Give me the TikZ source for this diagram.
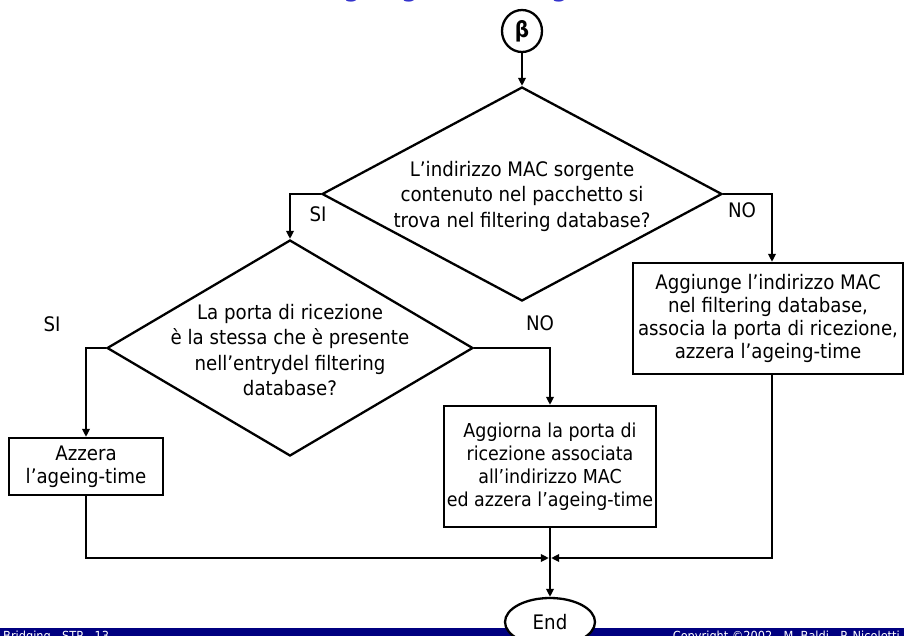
\documentclass[tikz,border=0pt]{standalone}
\usepackage{fontspec}
\setmainfont{DejaVu Sans}[FakeStretch=0.91]
\usetikzlibrary{shapes.geometric,arrows.meta}
\definecolor{titleblue}{RGB}{51,51,204}
\definecolor{barnavy}{RGB}{0,0,128}
\begin{document}
\begin{tikzpicture}[x=1pt,y=-1pt,
  wire/.style={line width=2.3pt},
  flow/.style={wire, -{Triangle[length=8pt,width=7.5pt]}},
  decision/.style={draw, line width=2.3pt, shape=diamond, inner sep=0pt},
  stepbox/.style={draw, line width=2.3pt, align=center, inner sep=0pt},
  terminal/.style={draw, line width=2.3pt, ellipse, fill=white, inner sep=0pt},
  qtext/.style={align=center, inner sep=0pt, font=\fontsize{20}{25.5}\selectfont},
  btext/.style={font=\fontsize{20}{23}\selectfont},
  lbl/.style={inner sep=0pt, font=\fontsize{20}{24}\selectfont}]

\useasboundingbox (0,0) rectangle (904,635);
\clip (0,0) rectangle (904,635);

% slide title (mostly above the page) and footer bar
\node[anchor=base west, inner sep=0pt, text=titleblue,
      font=\bfseries\fontsize{26}{30}\selectfont] (title) at (325,-4) {Ageing e Learning};
\fill[barnavy] (0,628) rectangle (904,640);
\node[anchor=base west, inner sep=0pt, text=white, font=\fontsize{12.5}{14}\selectfont]
  (footl) at (3,640.5) {Bridging - STP - 13};
\node[anchor=base east, inner sep=0pt, text=white, font=\fontsize{12.5}{14}\selectfont]
  (footr) at (900,640.5) {Copyright ©2002 - M. Baldi - P. Nicoletti};

% start connector
\node[terminal, minimum width=40pt, minimum height=42pt,
      font=\bfseries\fontsize{22}{24}\selectfont] (beta) at (522,31) {β};

% decisions
\node[decision, minimum width=400pt, minimum height=214pt] (d1) at (522,194) {};
\node[qtext] (d1t) at (522,196) {L’indirizzo MAC sorgente\\contenuto nel pacchetto si\\trova nel filtering database?};

\node[decision, minimum width=366pt, minimum height=216pt] (d2) at (290,348) {};
\node[qtext] (d2t) at (290,350) {La porta di ricezione\\è la stessa che è presente\\nell’entrydel filtering\\database?};

% actions
\node[stepbox, btext, minimum width=154pt, minimum height=57pt] (azz) at (86,466.5)
  {Azzera\\l’ageing-time};
\node[stepbox, font=\fontsize{19.2}{23}\selectfont, minimum width=212pt, minimum height=121pt]
  (agg) at (550,466.5) {Aggiorna la porta di\\ricezione associata\\all’indirizzo MAC\\ed azzera l’ageing-time};
\node[stepbox, btext, minimum width=270pt, minimum height=111pt] (add) at (768,318.5)
  {Aggiunge l’indirizzo MAC\\nel filtering database,\\associa la porta di ricezione,\\azzera l’ageing-time};

% end terminal
\node[terminal, minimum width=90pt, minimum height=48pt, font=\fontsize{20}{24}\selectfont]
  (end) at (550,622) {End};

% branch labels
\node[lbl] (si1) at (318,214) {SI};
\node[lbl] (no1) at (742,210) {NO};
\node[lbl] (si2) at (52,324) {SI};
\node[lbl] (no2) at (540,323) {NO};

% connectors
\coordinate (join) at (550,558);
\draw[flow] (beta) -- (d1.north);
\draw[flow] (d1.west) -| (d2.north);
\draw[flow] (d1.east) -| ([xshift=4pt]add.north);
\draw[flow] (d2.west) -| (azz.north);
\draw[flow] (d2.east) -| (agg.north);
\draw[flow, shorten >=1.15pt] (azz.south) |- (join);
\draw[flow, shorten >=1.15pt] ([xshift=4pt]add.south) |- (join);
\draw[flow] (agg.south) -- (end.north);
\end{tikzpicture}
\end{document}
